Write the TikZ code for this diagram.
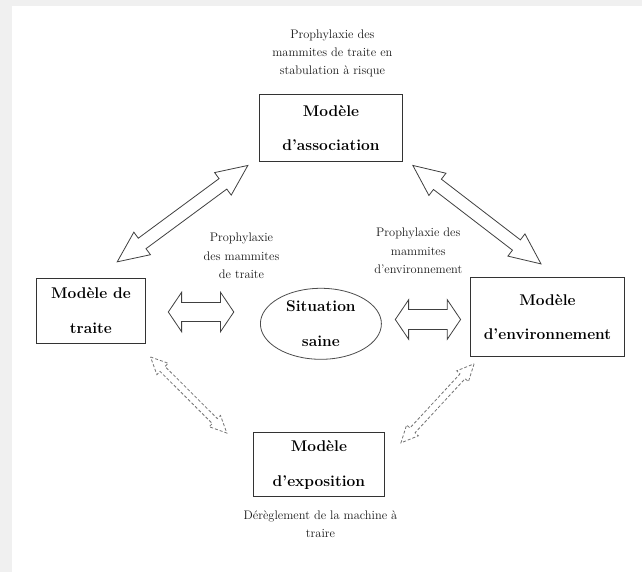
\documentclass[tikz,border=0pt]{standalone}
\usepackage{fontspec}
\usetikzlibrary{calc,shapes.geometric}

% Hollow double-headed arrow between two named points.
% #1 draw options, #2 first tip, #3 second tip,
% #4 head length, #5 head half-width, #6 shaft half-width (all in pt)
\newcommand\hollowarrow[6]{%
  \pgfmathsetmacro\haR{sqrt((#4)^2+(#5)^2)}%
  \pgfmathsetmacro\haA{atan((#5)/(#4))}%
  \pgfmathsetmacro\hsR{sqrt((#4)^2+(#6)^2)}%
  \pgfmathsetmacro\hsA{atan((#6)/(#4))}%
  \draw[#1] (#2)
    -- ($(#2)!\haR pt!\haA:(#3)$)
    -- ($(#2)!\hsR pt!\hsA:(#3)$)
    -- ($(#3)!\hsR pt!-\hsA:(#2)$)
    -- ($(#3)!\haR pt!-\haA:(#2)$)
    -- (#3)
    -- ($(#3)!\haR pt!\haA:(#2)$)
    -- ($(#3)!\hsR pt!\hsA:(#2)$)
    -- ($(#2)!\hsR pt!-\hsA:(#3)$)
    -- ($(#2)!\haR pt!-\haA:(#3)$)
    -- cycle;
}

\tikzset{
  boxfont/.style={font=\fontsize{15.5}{34.5}\selectfont\bfseries},
  model/.style={draw=black!80, line width=0.9pt, align=center, inner sep=0pt, boxfont},
  lbl/.style={align=center, inner sep=0pt, text=black!90, font=\fontsize{12.4}{18.3}\selectfont},
  solidarrow/.style={draw=black!75, line width=0.8pt, fill=white, line join=miter},
  dasharrow/.style={draw=black!55, line width=0.8pt, dash pattern=on 3pt off 2pt, line join=miter},
}

\begin{document}
\begin{tikzpicture}[x=1pt, y=-1pt]
  \useasboundingbox (0,0) rectangle (642,572);
  % page on a light grey backdrop
  \fill[black!6] (0,0) rectangle (642,572);
  \fill[white] (12,6) rectangle (642,572);

  % models
  \node[model, minimum width=143pt, minimum height=66.4pt] (assoc) at (331,128.1) {Modèle\\d’association};
  \node[model, minimum width=109.7pt, minimum height=65pt] (traite) at (90.9,310.5) {Modèle de\\traite};
  \node[model, minimum width=153.5pt, minimum height=79.1pt] (env) at (547.5,316.9) {Modèle\\d’environnement};
  \node[model, minimum width=131.8pt, minimum height=64.2pt] (expo) at (318.9,464.8) {Modèle\\d’exposition};
  \node[draw=black!70, line width=0.8pt, ellipse, minimum width=121pt, minimum height=71pt,
        inner sep=0pt, align=center, boxfont] (sit) at (320.9,323.8) {Situation\\saine};

  % captions
  \node[lbl] (capassoc) at (332.4,53.3) {Prophylaxie des\\mammites de traite en\\stabulation à risque};
  \node[lbl] (captraite) at (241.5,256) {Prophylaxie\\des mammites\\de traite};
  \node[lbl] (capenv) at (418.3,250.8) {Prophylaxie des\\mammites\\d’environnement};
  \node[lbl] (capexpo) at (320.5,524.4) {Dérèglement de la machine à\\traire};

  % arrow tips, placed from the model boxes
  \coordinate (ul1) at ($(traite.north east)+(-29,-15.7)$);
  \coordinate (ul2) at ($(assoc.south west)+(-11.2,3.7)$);
  \coordinate (ur1) at ($(assoc.south east)+(9.9,3.7)$);
  \coordinate (ur2) at ($(env.north)+(-6.5,-13)$);
  \coordinate (ml1) at ($(traite.east)+(22.1,1.5)$);
  \coordinate (ml2) at ($(sit.west)+(-26.2,-11.8)$);
  \coordinate (mr1) at ($(sit.east)+(13.5,-4.3)$);
  \coordinate (mr2) at ($(env.west)+(-9.7,2.6)$);
  \coordinate (dl1) at ($(traite.south east)+(4.3,13.5)$);
  \coordinate (dl2) at ($(expo.north west)+(-25.7,0.8)$);
  \coordinate (dr1) at ($(env.south west)+(3.8,6.9)$);
  \coordinate (dr2) at ($(expo.north east)+(15.7,10.6)$);

  % links
  \hollowarrow{solidarrow}{ul1}{ul2}{31}{14}{6.5}
  \hollowarrow{solidarrow}{ur1}{ur2}{31}{14}{6.5}
  \hollowarrow{solidarrow}{ml1}{ml2}{13.3}{19.7}{9.5}
  \hollowarrow{solidarrow}{mr1}{mr2}{13.3}{19.7}{10}
  \hollowarrow{dasharrow}{dl1}{dl2}{17}{8}{3.5}
  \hollowarrow{dasharrow}{dr1}{dr2}{17}{8}{3.5}
\end{tikzpicture}
\end{document}
